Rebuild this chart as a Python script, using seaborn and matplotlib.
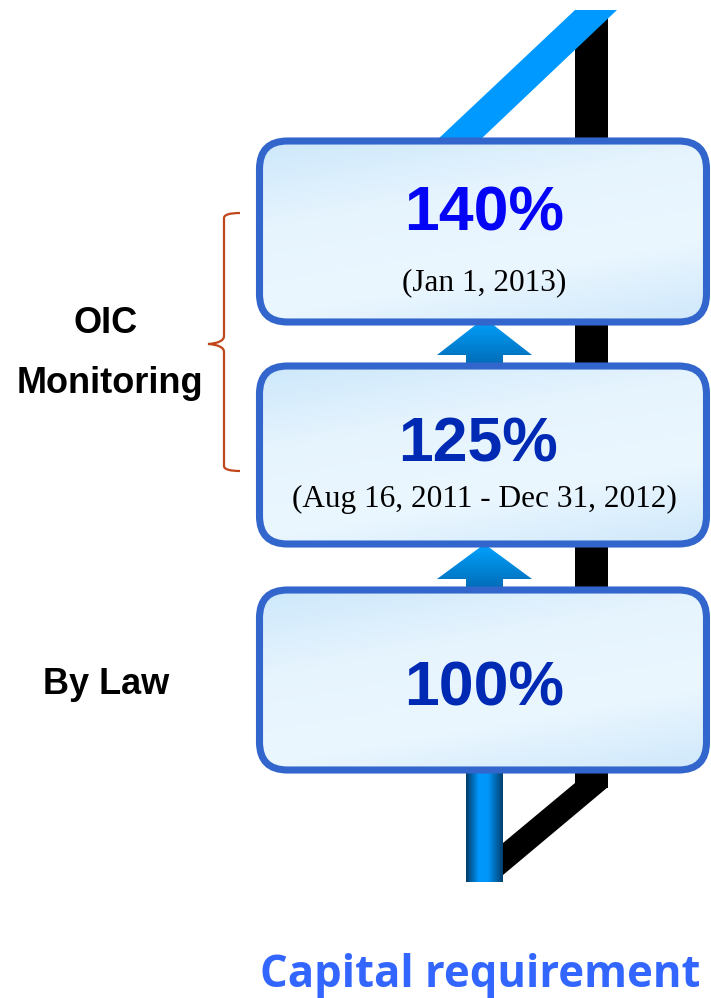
import numpy as np
import matplotlib
matplotlib.use("Agg")
import matplotlib.pyplot as plt
import seaborn as sns
from matplotlib.patches import FancyBboxPatch, Polygon, PathPatch
from matplotlib.path import Path
from matplotlib.colors import LinearSegmentedColormap

# content of the diagram
levels = ["140%", "125%", "100%"]
periods = ["(Jan 1, 2013)", "(Aug 16, 2011 - Dec 31, 2012)", ""]
level_colors = ["#0505F5", "#002AB4", "#002AB4"]
side_labels = ["OIC\nMonitoring", "By Law"]
axis_title = "Capital requirement"

sns.set_theme(style="white")
plt.rcParams["font.family"] = ["Liberation Sans", "DejaVu Sans"]

W, H = 711, 998
fig = plt.figure(figsize=(W / 100, H / 100), dpi=100)
ax = fig.add_axes([0, 0, 1, 1])


def gradient_fill(patch, img, extent, cmap, z):
    ax.add_patch(patch)
    im = ax.imshow(img, extent=extent, cmap=cmap, aspect="auto",
                   origin="upper", interpolation="bicubic", zorder=z)
    im.set_clip_path(patch)


# black connector behind the boxes
ax.add_patch(Polygon([(575, 10), (608, 10), (608, 788), (575, 788)],
                     closed=True, color="black", lw=0, zorder=1))
ax.add_patch(Polygon([(575, 774), (608, 774), (608, 787), (503, 875),
                      (503, 843), (575, 783)],
                     closed=True, color="black", lw=0, zorder=1))
# blue diagonal at the top
ax.add_patch(Polygon([(437, 140), (480, 140), (617, 10), (575, 10)],
                     closed=True, color="#0099FF", lw=0, zorder=2))

# arrows between boxes
arrow_cmap = LinearSegmentedColormap.from_list("arr", ["#00A2FF", "#0066AE"])
vgrad = np.linspace(0, 1, 64).reshape(-1, 1)
for tip, base, foot in [(318, 355, 370), (544, 579, 594)]:
    pts = [(484.5, tip), (532, base), (503, base), (503, foot),
           (466, foot), (466, base), (437, base)]
    gradient_fill(Polygon(pts, closed=True, fc="none", lw=0, zorder=2),
                  vgrad, (437, 532, foot, tip), arrow_cmap, 2)

# bottom pipe with horizontal shading
pipe_cmap = LinearSegmentedColormap.from_list(
    "pipe", [(0, "#003D6B"), (0.35, "#0099FF"), (0.6, "#0095F8"), (1, "#00416F")])
hgrad = np.linspace(0, 1, 64).reshape(1, -1)
gradient_fill(Polygon([(466, 772), (503, 772), (503, 882), (466, 882)],
                      closed=True, fc="none", lw=0, zorder=3),
              hgrad, (466, 503, 882, 772), pipe_cmap, 3)

# rounded boxes
box_cmap = LinearSegmentedColormap.from_list(
    "box", ["#CDE8FB", "#E6F4FE", "#EBF7FF", "#CFE8FB"])
yy, xx = np.mgrid[0:1:80j, 0:1:200j]
dgrad = 0.3 * xx + 0.7 * yy
box_rows = [(141, 322), (366, 544), (590, 770)]
for (top, bottom) in box_rows:
    patch = FancyBboxPatch((259.5, top), 447, bottom - top,
                           boxstyle="round,pad=0,rounding_size=28",
                           fc="none", ec="#3366CC", lw=5.1, zorder=5)
    gradient_fill(patch, dgrad, (259.5, 706.5, bottom, top), box_cmap, 4)

# numbers and periods
num_base = [230, 462, 706]
num_x = [484, 478, 484]
for lab, col, x, yb in zip(levels, level_colors, num_x, num_base):
    ax.text(x, yb, lab, ha="center", va="baseline", fontsize=45,
            fontweight="bold", color=col, zorder=6)
per_base = [290, 507, 0]
for lab, yb in zip(periods, per_base):
    if lab:
        ax.text(484, yb, lab, ha="center", va="baseline", fontsize=22.5,
                family=["Liberation Serif"], color="black", zorder=6)

# side labels
ax.text(106, 333, side_labels[0].split("\n")[0], ha="center", va="baseline",
        fontsize=26, fontweight="bold", color="black")
ax.text(110, 393, side_labels[0].split("\n")[1], ha="center", va="baseline",
        fontsize=26, fontweight="bold", color="black")
ax.text(106, 694, side_labels[1], ha="center", va="baseline",
        fontsize=26, fontweight="bold", color="black")

# curly bracket
verts = [(240, 213), (224, 213), (224, 218), (224, 336),
         (224, 343), (208, 344), (224, 345), (224, 352),
         (224, 466), (224, 471), (240, 471)]
codes = [Path.MOVETO, Path.CURVE3, Path.CURVE3, Path.LINETO,
         Path.CURVE3, Path.CURVE3, Path.CURVE3, Path.CURVE3,
         Path.LINETO, Path.CURVE3, Path.CURVE3]
ax.add_patch(PathPatch(Path(verts, codes), fc="none", ec="#C0451B", lw=1.6))

# bottom title
t = ax.text(480, 987, axis_title, ha="center", va="baseline", fontsize=34,
            fontweight="bold", color="#3366FF", family=["Open Sans", "DejaVu Sans"])
fig.canvas.draw()
bb = t.get_window_extent()
t.set_fontsize(34 * 440 / bb.width)

ax.set_xlim(0, W)
ax.set_ylim(H, 0)
ax.axis("off")
fig.savefig("out.png", dpi=100, facecolor="white")
